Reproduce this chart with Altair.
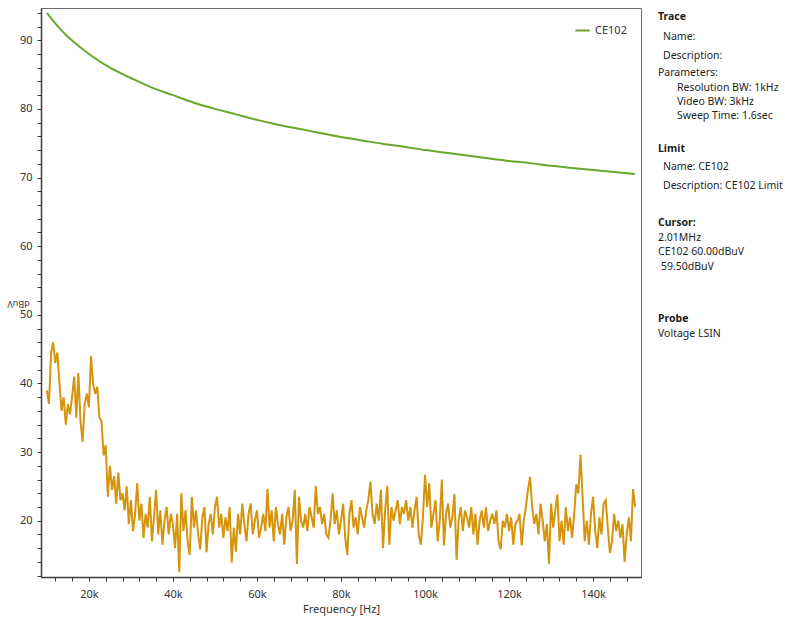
import altair as alt
import pandas as pd

FONT = "Noto Sans"

# ---- CE102 limit ----
limit_freq_khz = [10, 12.5, 15, 17.5, 20, 25, 30, 35, 40, 45, 50, 55, 60, 65, 70, 75,
                  80, 85, 90, 95, 100, 105, 110, 115, 120, 125, 130, 135, 140, 145, 150]
limit_dbuv = [94.0, 92.1, 90.5, 89.2, 88.0, 86.0, 84.5, 83.1, 82.0, 80.9, 80.0, 79.2,
              78.4, 77.7, 77.1, 76.5, 75.9, 75.4, 74.9, 74.5, 74.0, 73.6, 73.2, 72.8,
              72.4, 72.1, 71.7, 71.4, 71.1, 70.8, 70.5]

# ---- measured trace, 10 kHz .. 150 kHz, 0.5 kHz sweep step ----
sweep_start_khz = 10.0
sweep_step_khz = 0.5
trace_dbuv = [
    39, 37, 44.5, 46, 43, 44.5, 40, 36, 38, 34,
    37, 35.5, 38, 41, 35, 41.5, 34.5, 31.5, 37, 38.5,
    36.5, 44, 40, 38.5, 39.5, 35, 34.5, 29.5, 31, 23.5,
    28, 24.5, 26.5, 22.5, 27, 23, 24, 21.5, 25, 19.5,
    23, 18.5, 21, 25.5, 20, 22.5, 17.5, 21, 19, 23.5,
    17, 20.5, 24.5, 18, 21.5, 16.5, 20, 22, 18, 21,
    19.5, 16, 21, 12.5, 24, 18.5, 21.5, 17, 15, 23.5,
    19, 21.5, 18, 15.8, 20.5, 22, 15.4, 19.5, 21, 18,
    22, 23.5, 19, 21, 17.5, 20.5, 18.5, 22, 13.9, 19,
    15.5, 21, 18, 22.5, 19.5, 17, 21, 22.5, 18, 20,
    21.5, 17.5, 19, 21, 18.5, 24.6, 19, 21.5, 17, 22,
    19.5, 18, 21, 16.5, 20.5, 22, 18.5, 20, 24.5, 13.7,
    23.5, 20, 19, 21, 18.5, 22, 20.5, 19, 25.1, 21,
    22, 19.5, 21, 18, 17.5, 20, 24, 19.5, 21.5, 18,
    20, 22.5, 17.5, 15, 21, 23, 19, 20.5, 18, 22,
    20.5, 19, 21.5, 23, 25.7, 21, 19.5, 22.5, 20, 24.5,
    16, 21.5, 25.1, 16.5, 22, 20, 21.5, 23, 19.5, 22,
    21, 23, 20, 22, 19, 21.5, 23.5, 18, 16.5, 20.5,
    26.7, 22, 25.5, 19, 21, 23, 17, 20, 26, 16.4,
    21, 22.5, 19, 20.5, 23.9, 14.3, 20, 22, 18.5, 21.5,
    20.5, 19, 22, 18, 21, 16.5, 20, 21.5, 19, 22,
    18.5, 20, 21, 19.5, 21.5, 17, 15.8, 20, 19, 21,
    18.5, 20.5, 16.5, 19.5, 20, 21, 16.4, 20, 22, 24.5,
    26.4, 22, 19.5, 21, 18, 22.5, 20, 17, 19.5, 13.7,
    22.5, 19, 21.5, 23.8, 17, 20, 16.5, 22, 18.5, 20.5,
    17.5, 21, 25.3, 24, 29.6, 23.5, 17, 20, 16.5, 21,
    23.5, 18.5, 16, 20.5, 18, 22.5, 23, 19, 15.3, 17,
    21, 18.5, 20, 17.5, 19.5, 14, 18, 20.5, 17, 24.6,
    22,
]

x_ticks = list(range(12000, 150001, 4000))
y_ticks = list(range(12, 95, 2))

panel_texts = ["Trace", "Name:", "Description:", "Parameters:", "Resolution BW: 1kHz",
               "Video BW: 3kHz", "Sweep Time: 1.6sec", "Limit", "Name: CE102",
               "Description: CE102 Limit", "Cursor:", "2.01MHz", "CE102 60.00dBuV",
               "59.50dBuV", "Probe", "Voltage LSIN"]
panel_bold = [True, False, False, False, False, False, False, True, False, False,
              True, False, False, False, True, False]

# ---- data frames ----
limit_df = pd.DataFrame({"freq": [f * 1000 for f in limit_freq_khz],
                         "dbuv": limit_dbuv, "series": "CE102"})
trace_df = pd.DataFrame({
    "freq": [(sweep_start_khz + i * sweep_step_khz) * 1000 for i in range(len(trace_dbuv))],
    "dbuv": trace_dbuv,
})

PLOT_W, PLOT_H = 600, 569
LEFT, TOP = 41, 8

x_enc = alt.X(
    "freq:Q",
    title="Frequency [Hz]",
    scale=alt.Scale(domain=[8600, 151400], nice=False, zero=False),
    axis=alt.Axis(
        values=x_ticks,
        tickCount=500,
        labelExpr="datum.value % 20000 === 0 ? (datum.value / 1000) + 'k' : ''",
        labelOverlap=False,
        tickSize=4,
        labelPadding=7,
        titlePadding=4,
    ),
)
y_enc = alt.Y(
    "dbuv:Q",
    title="dBuV",
    scale=alt.Scale(domain=[11.8, 94.7], nice=False, zero=False),
    axis=alt.Axis(
        values=y_ticks,
        tickCount=500,
        labelExpr="datum.value % 10 === 0 ? datum.value : ''",
        labelOverlap=False,
        tickSize=4,
        labelPadding=5,
        titleAngle=180,
        titleX=-23,
        titleY=295,
        titleAlign="center",
        titleBaseline="middle",
        titleFontSize=9,
        titleFontWeight="normal",
    ),
)

trace = alt.Chart(trace_df).mark_line(color="#d4940c", strokeWidth=2).encode(
    x=x_enc, y=y_enc
)

limit = alt.Chart(limit_df).mark_line(strokeWidth=2, interpolate="monotone").encode(
    x="freq:Q",
    y="dbuv:Q",
    color=alt.Color(
        "series:N",
        scale=alt.Scale(domain=["CE102"], range=["#66a82b"]),
        legend=alt.Legend(
            title=None, orient="top-right", offset=14, padding=0,
            symbolType="stroke", symbolSize=200, symbolStrokeWidth=2,
            labelFont=FONT, labelFontSize=11, labelColor="#333",
        ),
    ),
)

panel_pos = [(658, 17), (663, 37), (663, 56), (658, 73), (677, 88), (677, 102),
             (677, 116), (658, 149), (663, 167), (663, 186), (658, 223), (658, 238),
             (658, 252), (661, 267), (658, 319), (658, 334)]

panel_layers = []
for txt, bold, (px, py) in zip(panel_texts, panel_bold, panel_pos):
    panel_layers.append(
        alt.Chart(pd.DataFrame({"t": [txt]})).mark_text(
            align="left", baseline="middle", font=FONT, fontSize=10.5,
            fontWeight="bold" if bold else "normal", color="#1e1e1e",
        ).encode(text="t:N", x=alt.value(px - LEFT), y=alt.value(py - TOP))
    )

chart = alt.layer(trace, limit, *panel_layers).properties(
    width=PLOT_W,
    height=PLOT_H,
    autosize=alt.AutoSizeParams(type="none"),
    padding={"left": LEFT, "top": TOP, "right": 785 - LEFT - PLOT_W, "bottom": 618 - TOP - PLOT_H},
    background="white",
).configure_view(
    stroke="#6e6e6e", strokeWidth=1
).configure_axis(
    grid=False,
    domainColor="#3c3c3c",
    domainWidth=1.5,
    tickColor="#3c3c3c",
    tickWidth=1,
    ticks=True,
    labelFont=FONT,
    labelFontSize=11,
    labelColor="#333333",
    titleFont=FONT,
    titleFontSize=11,
    titleFontWeight="normal",
    titleColor="#333333",
)

chart.save("out.html", embed_options={"renderer": "svg", "actions": False})
